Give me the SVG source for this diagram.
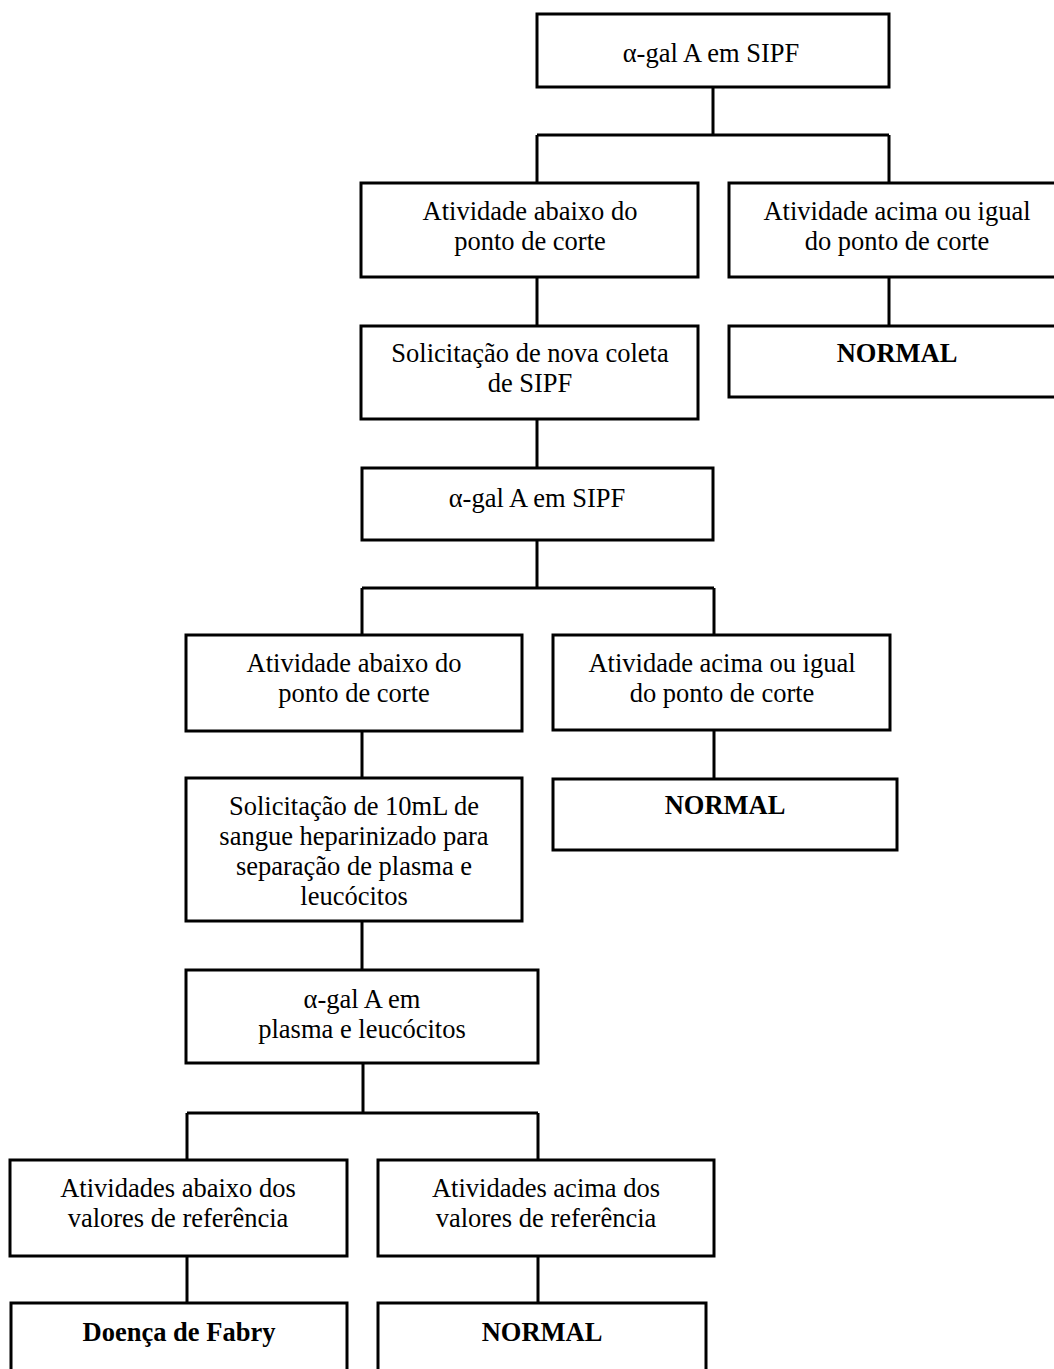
<svg xmlns="http://www.w3.org/2000/svg" width="1054" height="1369" viewBox="0 0 1054 1369">
<style>
.box{fill:#fff;stroke:#000;stroke-width:3}
.ln{fill:none;stroke:#000;stroke-width:3}
text{font-family:"Liberation Serif","Times New Roman",serif;font-size:26.5px;fill:#000;text-anchor:middle}
.b{font-weight:bold}
</style>
<rect x="0" y="0" width="1054" height="1369" fill="#fff"/>
<g id="connectors">
<path class="ln" d="M713 87V135M537 135H889M537 135V183M889 135V183"/>
<path class="ln" d="M537 277V326M889 277V326M537 419V468"/>
<path class="ln" d="M537 540V588M362 588H714M362 588V635M714 588V635"/>
<path class="ln" d="M362 731V778M714 730V779M362 921V970"/>
<path class="ln" d="M363 1063V1113M187 1113H538M187 1113V1160M538 1113V1160"/>
<path class="ln" d="M187 1256V1303M538 1256V1303"/>
</g>
<g id="n1"><rect class="box" x="537" y="14" width="352" height="73"/><text x="711" y="62">α-gal A em SIPF</text></g>
<g id="n2l"><rect class="box" x="361" y="183" width="337" height="94"/><text x="530" y="220">Atividade abaixo do</text><text x="530" y="250">ponto de corte</text></g>
<g id="n2r"><rect class="box" x="729" y="183" width="340" height="94"/><text x="897" y="220">Atividade acima ou igual</text><text x="897" y="250">do ponto de corte</text></g>
<g id="n3l"><rect class="box" x="361" y="326" width="337" height="93"/><text x="530" y="362">Solicitação de nova coleta</text><text x="530" y="392">de SIPF</text></g>
<g id="n3r"><rect class="box" x="729" y="326" width="340" height="71"/><text class="b" x="897" y="362">NORMAL</text></g>
<g id="n4"><rect class="box" x="362" y="468" width="351" height="72"/><text x="537" y="507">α-gal A em SIPF</text></g>
<g id="n5l"><rect class="box" x="186" y="635" width="336" height="96"/><text x="354" y="672">Atividade abaixo do</text><text x="354" y="702">ponto de corte</text></g>
<g id="n5r"><rect class="box" x="553" y="635" width="337" height="95"/><text x="722" y="672">Atividade acima ou igual</text><text x="722" y="702">do ponto de corte</text></g>
<g id="n6l"><rect class="box" x="186" y="778" width="336" height="143"/><text x="354" y="815">Solicitação de 10mL de</text><text x="354" y="845">sangue heparinizado para</text><text x="354" y="875">separação de plasma e</text><text x="354" y="905">leucócitos</text></g>
<g id="n6r"><rect class="box" x="553" y="779" width="344" height="71"/><text class="b" x="725" y="814">NORMAL</text></g>
<g id="n7"><rect class="box" x="186" y="970" width="352" height="93"/><text x="362" y="1008">α-gal A em</text><text x="362" y="1038">plasma e leucócitos</text></g>
<g id="n8l"><rect class="box" x="10" y="1160" width="337" height="96"/><text x="178" y="1197">Atividades abaixo dos</text><text x="178" y="1227">valores de referência</text></g>
<g id="n8r"><rect class="box" x="378" y="1160" width="336" height="96"/><text x="546" y="1197">Atividades acima dos</text><text x="546" y="1227">valores de referência</text></g>
<g id="n9l"><rect class="box" x="11" y="1303" width="336" height="80"/><text class="b" x="179" y="1341">Doença de Fabry</text></g>
<g id="n9r"><rect class="box" x="378" y="1303" width="328" height="80"/><text class="b" x="542" y="1341">NORMAL</text></g>
</svg>
